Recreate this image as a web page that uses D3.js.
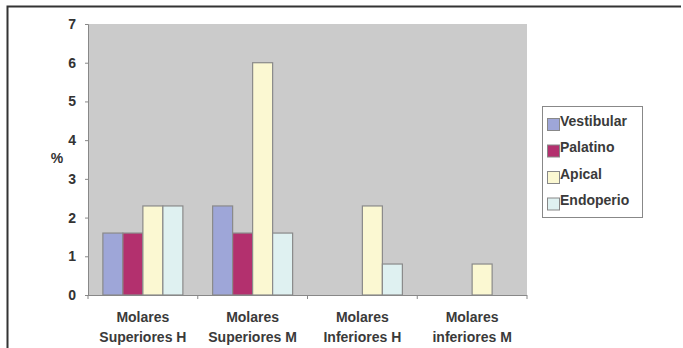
<!DOCTYPE html>
<html><head><meta charset="utf-8">
<script src="https://cdn.jsdelivr.net/npm/d3@7"></script>
<style>body{margin:0;background:#fff}svg{display:block;font-family:"Liberation Sans",Arial,sans-serif}</style>
</head><body>
<svg id="c" width="683" height="348"></svg>
<script>
const categories = [["Molares","Superiores H"],["Molares","Superiores M"],["Molares","Inferiores H"],["Molares","inferiores M"]];
const seriesNames = ["Vestibular","Palatino","Apical","Endoperio"];
const seriesColors = ["#9ea6d8","#b3306e","#fbf8d2","#dff1f1"];
const vestibular = [1.6, 2.3, 0, 0];
const palatino  = [1.6, 1.6, 0, 0];
const apical    = [2.3, 6.0, 2.3, 0.8];
const endoperio = [2.3, 1.6, 0.8, 0];
const yTicks = [0,1,2,3,4,5,6,7];
const seriesValues = [vestibular, palatino, apical, endoperio];

const svg = d3.select("#c");
// frame
svg.append("path").attr("d","M7.5,348 L7.5,6.5 L681,6.5").attr("fill","none").attr("stroke","#333").attr("stroke-width",2);

const L=88, R=527, T=24, B=295;
const x = d3.scaleBand().domain(d3.range(categories.length)).range([L,R]);
const y = d3.scaleLinear().domain([0,7]).range([B,T]);
const barW = 20;
const xs = d3.scaleBand().domain(d3.range(4)).range([0, barW*4]);

svg.append("rect").attr("x",L).attr("y",T).attr("width",R-L).attr("height",B-T).attr("fill","#cbcbcb");

// bars
categories.forEach((c,i)=>{
  const g = svg.append("g").attr("transform",`translate(${x(i)+(x.bandwidth()-barW*4)/2},0)`);
  seriesValues.forEach((vals,s)=>{
    if(vals[i]<=0) return;
    g.append("rect").attr("x",xs(s)).attr("y",y(vals[i])).attr("width",xs.bandwidth()).attr("height",B-y(vals[i]))
     .attr("fill",seriesColors[s]).attr("stroke","#8a8a8a").attr("stroke-width",1.2);
  });
});

// y axis
const ya = svg.append("g").attr("transform",`translate(${L},0)`).call(d3.axisLeft(y).tickValues(yTicks).tickSize(3).tickFormat(d3.format("d")));
ya.select(".domain").attr("stroke","#888");
ya.selectAll(".tick line").attr("stroke","#888");
ya.selectAll("text").attr("font-size",14).attr("font-weight","bold").attr("fill","#333").attr("x",-12).attr("font-family","Liberation Sans, Arial, sans-serif");

// x axis
svg.append("line").attr("x1",L).attr("x2",R).attr("y1",B+0.5).attr("y2",B+0.5).attr("stroke","#888");
const bounds = d3.range(categories.length+1).map(i=> i<categories.length ? x(i) : R);
svg.selectAll(".xt").data(bounds).enter().append("line").attr("x1",d=>d).attr("x2",d=>d).attr("y1",B).attr("y2",B+4).attr("stroke","#888");
categories.forEach((c,i)=>{
  const t = svg.append("text").attr("x",x(i)+x.bandwidth()/2).attr("text-anchor","middle").attr("font-size",14).attr("font-weight","bold").attr("fill","#3a3a3a");
  t.append("tspan").attr("x",x(i)+x.bandwidth()/2).attr("y",322).text(c[0]);
  t.append("tspan").attr("x",x(i)+x.bandwidth()/2).attr("y",342).text(c[1]);
});

svg.append("text").attr("x",57).attr("y",163).attr("text-anchor","middle").attr("font-size",14).attr("font-weight","bold").attr("fill","#333").text("%");

// legend
svg.append("rect").attr("x",542.5).attr("y",106.5).attr("width",100).attr("height",111).attr("fill","#fff").attr("stroke","#888");
seriesNames.forEach((n,s)=>{
  const cy = 122 + s*26.5;
  svg.append("rect").attr("x",547.5).attr("y",cy-3.5).attr("width",12).attr("height",12).attr("fill",seriesColors[s]).attr("stroke","#888");
  svg.append("text").attr("x",560).attr("y",cy+3.5).attr("font-size",14).attr("font-weight","bold").attr("fill","#3a3a3a").text(n);
});
</script>
</body></html>
